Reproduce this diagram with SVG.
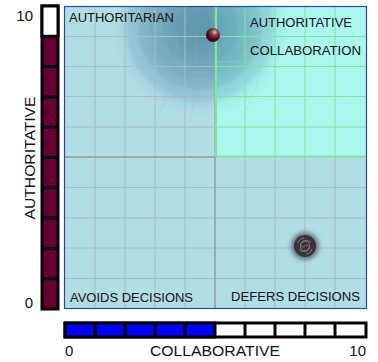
<svg xmlns="http://www.w3.org/2000/svg" width="378" height="362" viewBox="0 0 378 362">
<style>
text{font-family:"Liberation Sans",Arial,sans-serif;fill:#111}
.ax{font-size:15px}
.ql{font-size:12.5px}
.g{stroke:#a6bcc6;stroke-width:1;fill:none}
.gg{stroke:#80e4a4;stroke-width:1;fill:none}
.mid{stroke:#a3a6a8;stroke-width:2;fill:none}
.cellv{stroke:#000;stroke-width:3}
.ring{fill:#3b7898;fill-opacity:0.1}
</style>
<defs>
<radialGradient id="blob" cx="200" cy="28" r="88" gradientUnits="userSpaceOnUse">
<stop offset="0" stop-color="#4a86a6" stop-opacity="0.45"/>
<stop offset="0.6" stop-color="#4a86a6" stop-opacity="0.3"/>
<stop offset="0.85" stop-color="#5a96b2" stop-opacity="0.15"/>
<stop offset="1" stop-color="#6aa4bc" stop-opacity="0"/>
</radialGradient>
<filter id="soft" x="-20%" y="-20%" width="140%" height="140%"><feGaussianBlur stdDeviation="1.5"/></filter>
<filter id="soft2" x="-50%" y="-50%" width="200%" height="200%"><feGaussianBlur stdDeviation="2"/></filter>
<radialGradient id="ball" cx="0.62" cy="0.3" r="0.8">
<stop offset="0" stop-color="#f0b8c0"/>
<stop offset="0.28" stop-color="#904050"/>
<stop offset="0.65" stop-color="#4a0a18"/>
<stop offset="1" stop-color="#2a0008"/>
</radialGradient>
<clipPath id="plotclip"><rect x="65" y="6" width="301" height="302"/></clipPath>
</defs>

<g id="plot">
<rect x="65" y="6" width="301" height="302" fill="#b1dde5"/>
<rect x="215" y="6" width="151" height="151" fill="#aaf7ee"/>
<g id="blob-shade" clip-path="url(#plotclip)">
<circle cx="200" cy="28" r="88" fill="url(#blob)"/>
<g filter="url(#soft)">
<circle class="ring" cx="200" cy="28" r="74"/>
<circle class="ring" cx="200" cy="28" r="62"/>
<circle class="ring" cx="200" cy="28" r="50"/>
<circle class="ring" cx="200" cy="28" r="38"/>
<circle class="ring" cx="200" cy="28" r="26"/>
<circle class="ring" cx="200" cy="28" r="14"/>
</g>
</g>
<g id="grid">
<path class="g" d="M95,6V308M125,6V308M155,6V308M185,6V308M245,157V308M275,157V308M305,157V308M335,157V308"/>
<path class="g" d="M65,36.5H215M65,66.5H215M65,96.5H215M65,127H215M65,187.5H366M65,218H366M65,248H366M65,278.5H366"/>
<path class="gg" d="M245,6V157M275,6V157M305,6V157M335,6V157M215,36.5H366M215,66.5H366M215,96.5H366M215,127H366"/>
<g fill="none" stroke="#c8a0a8" stroke-opacity="0.25" stroke-width="1" clip-path="url(#plotclip)">
<path d="M125,72Q170,60 215,62"/>
<path d="M150,100Q180,95 215,96"/>
<path d="M160,112Q175,80 178,30"/>
<path d="M190,122Q198,80 196,20"/>
</g>
<g fill="none" stroke="#8ae0a8" stroke-opacity="0.35" stroke-width="1">
<path d="M215,62Q250,60 280,68"/>
<path d="M215,96Q245,96 270,100"/>
<path d="M240,118Q262,90 265,40"/>
</g>
<path d="M215,156.5H366M216,6V157" stroke="#7ee89a" stroke-width="2" fill="none"/>
<path class="mid" d="M215,157V308M65,157H215"/>
<path d="M214.5,6V157" stroke="#9aa8ac" stroke-width="1" fill="none" stroke-opacity="0.6"/>
</g>
<rect x="64.5" y="6.5" width="302" height="302" fill="none" stroke="#2a4aa0" stroke-width="1.2"/>
</g>

<g id="authoritarian"><text class="ql" x="69" y="22" textLength="105" lengthAdjust="spacingAndGlyphs">AUTHORITARIAN</text></g>
<g id="authoritative-collaboration">
<text class="ql" x="250" y="27" textLength="102" lengthAdjust="spacingAndGlyphs">AUTHORITATIVE</text>
<text class="ql" x="250" y="55" textLength="111" lengthAdjust="spacingAndGlyphs">COLLABORATION</text>
</g>
<g id="avoids"><text class="ql" x="70" y="302" textLength="123" lengthAdjust="spacingAndGlyphs">AVOIDS DECISIONS</text></g>
<g id="defers"><text class="ql" x="231" y="301" textLength="129" lengthAdjust="spacingAndGlyphs">DEFERS DECISIONS</text></g>

<g id="marker-ball"><circle cx="213" cy="35" r="7" fill="url(#ball)"/></g>
<g id="marker-galaxy">
<circle cx="305" cy="246" r="14" fill="#4a5a6a" fill-opacity="0.75" filter="url(#soft2)"/>
<circle cx="305" cy="246" r="11" fill="#3a3238"/>
<g fill="none" stroke="#9a8c94" stroke-width="0.9" stroke-opacity="0.9">
<path d="M305,246c1.5,-2 4,-1 4,1.5c0,3 -4,4.5 -6.5,3c-3,-2 -3,-7 0.5,-9c3,-1.5 6,-1 8,1"/>
<path d="M305,246c-1.5,2 -4,1 -4,-1.5c0,-3 4,-4.5 6.5,-3c3,2 3,7 -0.5,9c-3,1.5 -6,1 -8,-1"/>
<path d="M298,243c1,-3 3,-5 6,-5"/>
<path d="M312,249c-1,3 -3,5 -6,5"/>
</g>
</g>

<g id="v-bar">
<rect x="42" y="6" width="16" height="303" fill="#660033" class="cellv"/>
<rect x="42" y="6" width="16" height="30.3" fill="#fff" class="cellv"/>
<path class="cellv" d="M42,66.6H58M42,96.9H58M42,127.2H58M42,157.5H58M42,187.8H58M42,218.1H58M42,248.4H58M42,278.7H58"/>
</g>
<g id="h-bar">
<rect x="65" y="323" width="301" height="14" fill="#fff" class="cellv"/>
<rect x="65" y="323" width="150" height="14" fill="#0000ff" class="cellv"/>
<path class="cellv" d="M95,323V337M125,323V337M155,323V337M185,323V337M245,323V337M275,323V337M305,323V337M335,323V337"/>
</g>

<g id="axis-labels">
<text class="ax" x="33" y="21" text-anchor="end">10</text>
<text class="ax" x="33" y="308" text-anchor="end">0</text>
<text class="ax" transform="translate(35,158) rotate(-90)" text-anchor="middle" textLength="123" lengthAdjust="spacingAndGlyphs">AUTHORITATIVE</text>
<text class="ax" x="65" y="356">0</text>
<text class="ax" x="215" y="356" text-anchor="middle" textLength="130" lengthAdjust="spacingAndGlyphs">COLLABORATIVE</text>
<text class="ax" x="366" y="356" text-anchor="end">10</text>
</g>
</svg>
